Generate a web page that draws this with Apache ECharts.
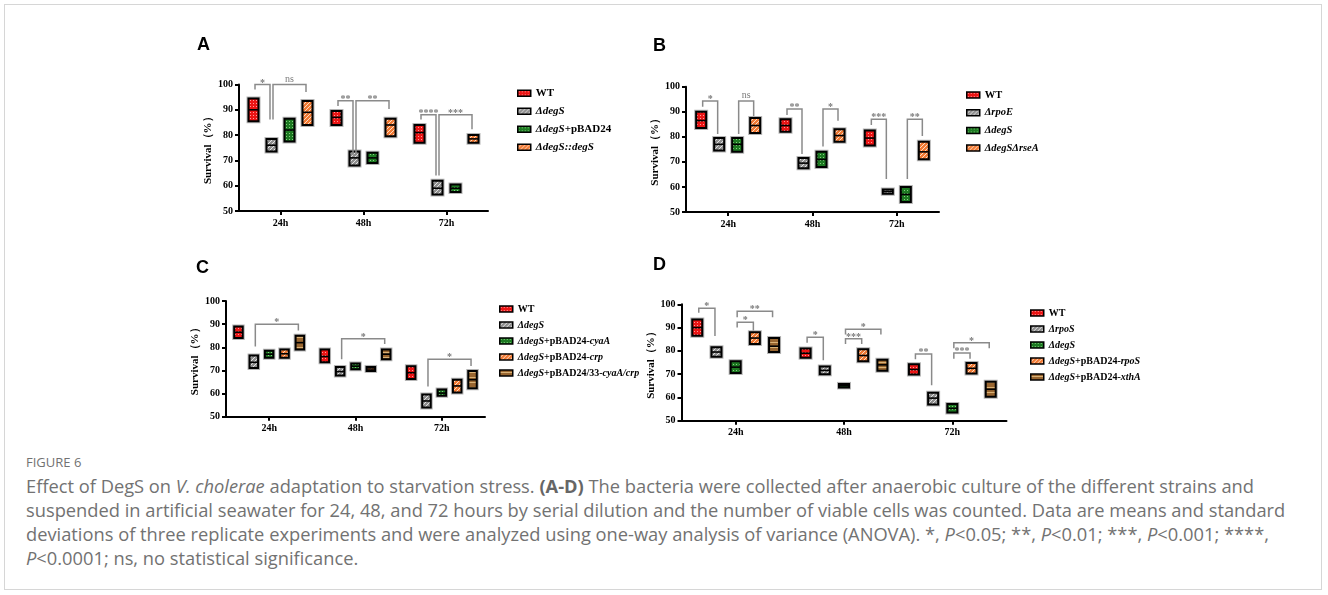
<!DOCTYPE html>
<html><head><meta charset="utf-8">
<script src="https://cdn.jsdelivr.net/npm/echarts@6/dist/echarts.min.js"></script>
<style>
html,body{margin:0;padding:0;background:#fff;}
#wrap{position:relative;width:1328px;height:595px;overflow:hidden;background:#fff;}
#frame{position:absolute;left:4px;top:4px;width:1318px;height:586px;border:1px solid #d6d6d6;box-sizing:border-box;}
#chart{position:absolute;left:0;top:0;width:1328px;height:450px;}
.cap{position:absolute;left:26px;font-family:'Open Sans',sans-serif;color:#727272;white-space:nowrap;line-height:24px;font-size:16px;}
.cap b{color:#666;}
</style></head><body>
<div id="wrap">
<div id="frame"></div>
<div id="chart"></div>
<div class="cap" id="fig" style="top:454px;font-size:13px;line-height:16px;">FIGURE 6</div>
<div class="cap line" style="top:474px">Effect of DegS on <i>V. cholerae</i> adaptation to starvation stress. <b>(A-D)</b> The bacteria were collected after anaerobic culture of the different strains and</div>
<div class="cap line" id="l2" style="top:498px">suspended in artificial seawater for 24, 48, and 72 hours by serial dilution and the number of viable cells was counted. Data are means and standard</div>
<div class="cap line" style="top:522px">deviations of three replicate experiments and were analyzed using one-way analysis of variance (ANOVA). *, <i>P</i>&lt;0.05; **, <i>P</i>&lt;0.01; ***, <i>P</i>&lt;0.001; ****,</div>
<div class="cap line" style="top:546px"><i>P</i>&lt;0.0001; ns, no statistical significance.</div>
</div>
<script>
// ---------- data ----------
const timepoints = ['24h', '48h', '72h'];
const yAxisName = 'Survival（%）';

// each entry: [low, mean, high] for 24h, 48h, 72h
// Panel A
const strainsA = ['WT', 'ΔdegS', 'ΔdegS+pBAD24', 'ΔdegS::degS'];
const richA = ['{b|WT}', '{i|ΔdegS}', '{i|ΔdegS}{b|+pBAD24}', '{i|ΔdegS::degS}'];
const aWT   = [[85.5, 90, 94.5], [84, 87, 89.5], [77, 81, 84]];
const aDegS = [[73.5, 76, 78.5], [68, 71, 73.5], [56.5, 59, 62]];
const aPBAD = [[77.5, 82, 86.5], [69, 71, 73], [57.5, 59, 60.5]];
const aComp = [[84, 89, 93.5], [79.5, 84, 86.5], [77, 78.5, 80]];
// brackets: [timeIndex, fromStrain, toStrain, top, leftLegEnd, rightLegEnd, label]
const bracketsA = [
  [0, 0, 1, 100, 98, 86.2, '*'], [0, 1, 3, 100, 86.2, 97, 'ns'],
  [1, 0, 1, 93.6, 91.5, 72, '**'], [1, 1, 3, 93.6, 72, 90.3, '**'],
  [2, 0, 1, 88, 86.2, 64, '****'], [2, 1, 3, 88, 64, 82.3, '***']
];

// Panel B
const strainsB = ['WT', 'ΔrpoE', 'ΔdegS', 'ΔdegSΔrseA'];
const richB = ['{b|WT}', '{i|ΔrpoE}', '{i|ΔdegS}', '{i|ΔdegSΔrseA}'];
const bWT   = [[83.5, 86.5, 90], [82, 84.5, 87], [76.5, 79.5, 82.5]];
const bRpoE = [[74.5, 77, 79.5], [67.5, 69.5, 71.5], [57.3, 58.2, 59]];
const bDegS = [[74, 77, 79.5], [68, 71, 74], [54, 57, 60]];
const bRseA = [[81.5, 84.5, 87.5], [78, 80.5, 83], [71, 74, 78]];
const bracketsB = [
  [0, 0, 1, 94.3, 92, 81.1, '*'], [0, 2, 3, 94.3, 81.1, 88.3, 'ns'],
  [1, 0, 1, 91.1, 88.7, 73.1, '**'], [1, 2, 3, 91.1, 76.1, 86.4, '*'],
  [2, 0, 1, 87, 84.7, 63.2, '***'], [2, 2, 3, 87, 63.2, 80.3, '**']
];

// Panel C
const strainsC = ['WT', 'ΔdegS', 'ΔdegS+pBAD24-cyaA', 'ΔdegS+pBAD24-crp', 'ΔdegS+pBAD24/33-cyaA/crp'];
const richC = ['{b|WT}', '{i|ΔdegS}', '{i|ΔdegS}{b|+pBAD24-}{i|cyaA}', '{i|ΔdegS}{b|+pBAD24-}{i|crp}', '{i|ΔdegS}{b|+pBAD24/33-}{i|cyaA/crp}'];
const cWT   = [[84, 86.5, 89], [73.5, 76, 79], [66.3, 69, 71.8]];
const cDegS = [[71, 73.5, 76.5], [67.8, 69.5, 71.5], [54, 56.8, 59.6]];
const cCyaA = [[75.5, 77, 78.5], [70.5, 71.8, 73], [59, 60.2, 61.8]];
const cCrp  = [[75.5, 77.2, 79], [69.8, 70.6, 71.5], [60.5, 63.3, 66]];
const cBoth = [[79, 82, 85], [74.8, 77, 79], [62.3, 66, 69.8]];
const bracketsC = [
  [0, 1, 4, 89.9, 80.3, 87.2, '*'], [1, 1, 4, 83.7, 74.8, 81.4, '*'], [2, 1, 4, 74.8, 63, 71.9, '*']
];

// Panel D
const strainsD = ['WT', 'ΔrpoS', 'ΔdegS', 'ΔdegS+pBAD24-rpoS', 'ΔdegS+pBAD24-xthA'];
const richD = ['{b|WT}', '{i|ΔrpoS}', '{i|ΔdegS}', '{i|ΔdegS}{b|+pBAD24-}{i|rpoS}', '{i|ΔdegS}{b|+pBAD24-}{i|xthA}'];
const dWT    = [[86.5, 90, 93.5], [77, 79, 81], [69.8, 72, 74.2]];
const dRpoS  = [[77.5, 79.5, 81.5], [70, 71.6, 73.3], [57, 59.7, 62]];
const dDegS  = [[70.5, 73, 75.5], [64.3, 65, 65.8], [53.5, 55.3, 57.2]];
const dRpoSc = [[83, 85.5, 88], [75.5, 78, 80.7], [70.3, 72.5, 74.8]];
const dXthA  = [[79.5, 82, 85.5], [71.5, 74, 76.2], [60.3, 63.5, 66.7]];
const bracketsD = [
  [0, 0, 1, 98.3, 96.4, 86.4, '*'], [0, 2, 3, 92.3, 90, 88.7, '*'], [0, 2, 4, 97, 94.4, 94.4, '**'],
  [1, 0, 1, 85.8, 83.5, 76, '*'], [1, 2, 3, 85.2, 83, 83, '***'], [1, 2, 4, 89.3, 87, 87, '*'],
  [2, 0, 1, 78.6, 76.4, 65.2, '**'], [2, 2, 3, 79.1, 76.6, 76.6, '***'], [2, 2, 4, 83.5, 81.1, 81.1, '*']
];

// ---------- styles ----------
function pat(w, h, base, fg, pts) {
  const c = document.createElement('canvas'); c.width = w; c.height = h;
  const g = c.getContext('2d'); g.fillStyle = base; g.fillRect(0, 0, w, h);
  g.fillStyle = fg; pts.forEach(p => g.fillRect(p[0], p[1], 1, 1));
  return { image: c, repeat: 'repeat' };
}
const P = {
  red: pat(3, 3, '#ec1515', '#ff9a9a', [[1, 1]]),
  gray: pat(4, 4, '#8e8e8e', '#e2e2e2', [[0, 3], [1, 2], [2, 1], [3, 0]]),
  green: pat(3, 3, '#1d7a22', '#86cf80', [[1, 1]]),
  orange: pat(4, 4, '#f27a34', '#ffdcc2', [[0, 3], [1, 2], [2, 1], [3, 0]]),
  brown: pat(1, 5, '#996630', '#d9b277', [[0, 2]])
};
const colorsAB = [P.red, P.gray, P.green, P.orange];
const colorsCD = [P.red, P.gray, P.green, P.orange, P.brown];

const serif = "'Liberation Serif', 'DejaVu Serif', serif";

const panels = [
  { key: 'A', strains: strainsA, rich: richA, values: [aWT, aDegS, aPBAD, aComp], fills: colorsAB, brackets: bracketsA,
    grid: { left: 239, top: 84.5, width: 249, height: 126.5 }, step: 18, boxW: 10,
    legend: { left: 517, top: 87.3, gap: 6, font: 11 }, nameGap: 19, letter: [197, 46.5] },
  { key: 'B', strains: strainsB, rich: richB, values: [bWT, bRpoE, bDegS, bRseA], fills: colorsAB, brackets: bracketsB,
    grid: { left: 686, top: 86.7, width: 253, height: 125.3 }, step: 18, boxW: 10,
    legend: { left: 966, top: 89, gap: 5.7, font: 10.5 }, nameGap: 19, letter: [653, 47.5] },
  { key: 'C', strains: strainsC, rich: richC, values: [cWT, cDegS, cCyaA, cCrp, cBoth], fills: colorsCD, brackets: bracketsC,
    grid: { left: 226, top: 301, width: 259, height: 115.7 }, step: 15.35, boxW: 8.5,
    legend: { left: 499, top: 303, gap: 4, font: 10 }, nameGap: 19, letter: [196, 269] },
  { key: 'D', strains: strainsD, rich: richD, values: [dWT, dRpoS, dDegS, dRpoSc, dXthA], fills: colorsCD, brackets: bracketsD,
    grid: { left: 681.5, top: 304.3, width: 325, height: 116.4 }, step: 19.2, boxW: 10,
    legend: { left: 1030, top: 307, gap: 4, font: 10 }, nameGap: 19, letter: [653, 266] }
];

const option = { animation: false, grid: [], xAxis: [], yAxis: [], series: [], legend: [], graphic: [] };

panels.forEach((p, gi) => {
  option.grid.push(Object.assign({ containLabel: false }, p.grid));
  option.xAxis.push({
    type: 'category', gridIndex: gi, data: timepoints, boundaryGap: true,
    axisLine: { show: true, lineStyle: { color: '#000', width: 2 } },
    axisTick: { show: true, alignWithLabel: true, length: 4, lineStyle: { color: '#000', width: 2 } },
    axisLabel: { fontFamily: serif, fontWeight: 'bold', fontSize: 10, color: '#000', margin: 7 },
    splitLine: { show: false }
  });
  option.yAxis.push({
    type: 'value', gridIndex: gi, min: 50, max: 100, interval: 10,
    name: yAxisName, nameLocation: 'middle', nameGap: p.nameGap,
    nameTextStyle: { fontFamily: serif, fontWeight: 'bold', fontSize: 11, color: '#000' },
    axisLine: { show: true, lineStyle: { color: '#000', width: 2 } },
    axisTick: { show: true, length: 4, lineStyle: { color: '#000', width: 2 } },
    axisLabel: { fontFamily: serif, fontWeight: 'bold', fontSize: 10, color: '#000', margin: 6 },
    splitLine: { show: false }
  });
  const n = p.strains.length;
  const names = [];
  p.strains.forEach((s, si) => {
    const name = p.key + ':' + s;
    names.push(name);
    const offset = (si - (n - 1) / 2) * p.step;
    const fill = p.fills[si];
    option.series.push({
      type: 'custom', name: name, xAxisIndex: gi, yAxisIndex: gi,
      itemStyle: { color: fill, borderColor: '#000', borderWidth: 1.5 },
      encode: { x: 0, y: [1, 2, 3] },
      data: p.values[si].map((v, ti) => [ti, v[0], v[1], v[2]]),
      renderItem: function (params, api) {
        const t = api.value(0);
        const lo = api.coord([t, api.value(1)]);
        const mid = api.coord([t, api.value(2)]);
        const hi = api.coord([t, api.value(3)]);
        const x = lo[0] + offset, w = p.boxW;
        return {
          type: 'group', children: [
            { type: 'rect', shape: { x: x - w / 2, y: hi[1], width: w, height: lo[1] - hi[1] },
              style: { fill: 'none', stroke: '#b5b5b5', lineWidth: 4 } },
            { type: 'rect', shape: { x: x - w / 2, y: hi[1], width: w, height: lo[1] - hi[1] },
              style: { fill: fill, stroke: '#000', lineWidth: 2 } },
            { type: 'line', shape: { x1: x - w / 2, y1: mid[1], x2: x + w / 2, y2: mid[1] },
              style: { stroke: '#000', lineWidth: 1.6 } }
          ]
        };
      }
    });
  });
  // significance brackets
  const br = p.brackets;
  option.series.push({
    type: 'custom', name: p.key + ':sig', xAxisIndex: gi, yAxisIndex: gi, silent: true,
    encode: { x: 0, y: 1 },
    data: br.map(b => [b[0], b[3]]),
    renderItem: function (params, api) {
      const b = br[params.dataIndex];
      const xc = api.coord([b[0], b[3]])[0];
      const xl = xc + (b[1] - (n - 1) / 2) * p.step + 1.5;
      const xr = xc + (b[2] - (n - 1) / 2) * p.step - 1.5;
      const yt = api.coord([b[0], b[3]])[1];
      const yl = api.coord([b[0], b[4]])[1];
      const yr = api.coord([b[0], b[5]])[1];
      return {
        type: 'group', children: [
          { type: 'polyline', shape: { points: [[xl, yl], [xl, yt], [xr, yt], [xr, yr]] },
            style: { fill: 'none', stroke: '#8a8a8a', lineWidth: 1.5 } },
          { type: 'text', x: (xl + xr) / 2, y: yt + (b[6] === 'ns' ? -0.5 : 3.5),
            style: { text: b[6], fill: '#7a7a7a', font: (b[6] === 'ns' ? '10px ' : 'bold 10px ') + serif,
              align: 'center', verticalAlign: 'bottom' } }
        ]
      };
    }
  });
  const lf = p.legend.font;
  option.legend.push({
    orient: 'vertical', left: p.legend.left, top: p.legend.top, itemGap: p.legend.gap,
    itemWidth: 13, itemHeight: 6, icon: 'rect', selectedMode: false, padding: 0,
    data: names,
    itemStyle: { borderColor: '#000', borderWidth: 1.5 },
    formatter: function (name) { return p.rich[names.indexOf(name)]; },
    textStyle: {
      fontFamily: serif, fontSize: lf, fontWeight: 'bold', color: '#000', lineHeight: 12,
      rich: {
        b: { fontFamily: serif, fontSize: lf, fontWeight: 'bold', color: '#000', lineHeight: 12 },
        i: { fontFamily: serif, fontSize: lf, fontWeight: 'bold', fontStyle: 'italic', color: '#000', lineHeight: 12 }
      }
    }
  });
  option.graphic.push({
    type: 'text', left: p.letter[0], top: p.letter[1] - 10,
    style: { text: p.key, font: 'bold 18px "Liberation Sans", Arial, sans-serif', fill: '#000' }
  });
});

const chart = echarts.init(document.getElementById('chart'), null, { renderer: 'canvas' });
chart.setOption(option);

// fit caption width
const l2 = document.getElementById('l2');
const w = l2.getBoundingClientRect().width;
const fs = 16 * 1260 / w;
document.querySelectorAll('.line').forEach(el => { el.style.fontSize = fs.toFixed(2) + 'px'; });
</script>
</body></html>
